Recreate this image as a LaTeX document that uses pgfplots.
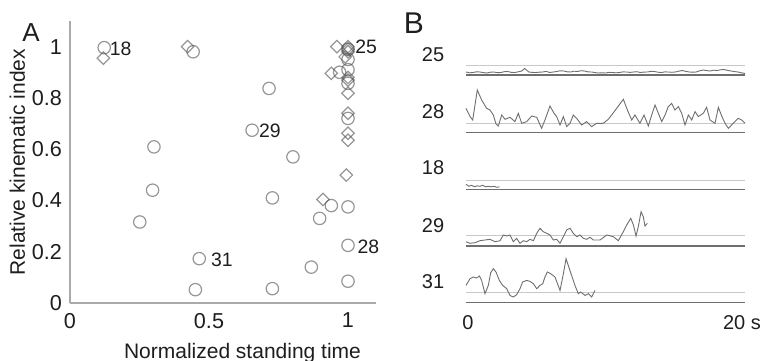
\documentclass[border=0pt]{standalone}
\usepackage{pgfplots}
\pgfplotsset{compat=1.18}
\usepackage{fontspec}
\setmainfont{Liberation Sans}
\definecolor{markg}{RGB}{80,80,80}
\definecolor{axisg}{RGB}{170,170,170}
\definecolor{traceg}{RGB}{110,110,110}
\definecolor{baseg}{RGB}{110,110,110}
\definecolor{thrg}{RGB}{200,200,200}
\definecolor{txt}{RGB}{30,30,30}
\begin{document}
\begin{tikzpicture}
\useasboundingbox (0,0) rectangle (385.5pt,180pt);
% ---------------- Panel A ----------------
\begin{axis}[
  at={(35pt,28.5pt)}, anchor=south west,
  scale only axis, width=152.9pt, height=141pt,
  xmin=0, xmax=1.1, ymin=0, ymax=1.1,
  axis x line*=bottom, axis y line*=left,
  axis line style={axisg, line width=0.6pt, -},
  xtick={0,0.5,1}, xticklabels={0,0.5,1},
  ytick={0,0.2,0.4,0.6,0.8,1}, yticklabels={0,0.2,0.4,0.6,0.8,1},
  major tick length=0pt,
  tick label style={font=\fontsize{10.8}{12}\selectfont, text=txt},
  xticklabel style={yshift=-1.5pt},
  yticklabel style={xshift=-0.5pt},
  /pgf/number format/assume math mode=true,
  xlabel={Normalized standing time},
  ylabel={Relative kinematic index},
  label style={font=\fontsize{10.5}{12}\selectfont, text=txt},
  xlabel style={at={(axis description cs:0.564,0)}, anchor=north, yshift=-16.5pt},
  ylabel style={at={(axis description cs:-0.172,0.5)}, anchor=center},
  clip=false,
]
\addplot[only marks, mark=o, mark size=3.1pt,
  mark options={draw=markg, draw opacity=0.6, line width=0.6pt}]
  coordinates {
  (0.123,0.996) (0.443,0.980) (0.716,0.837) (0.655,0.674) (0.302,0.609)
  (0.297,0.440) (0.251,0.316) (0.802,0.570) (0.728,0.410) (0.940,0.380)
  (0.898,0.330) (1.000,0.375) (1.000,0.225) (0.465,0.173) (0.868,0.140)
  (0.451,0.052) (0.728,0.056) (1.000,0.085) (1.000,0.990) (1.000,0.950)
  (0.970,0.900) (1.000,0.910) (1.000,0.857) (1.000,0.720)
  };
\addplot[only marks, mark=square, mark size=2.2pt,
  mark options={draw=markg, draw opacity=0.6, fill=none, line width=0.6pt, rotate=45}]
  coordinates {
  (0.120,0.955) (0.423,1.000) (0.994,0.499) (0.910,0.404) (0.960,1.000)
  (0.940,0.896) (1.000,1.000) (1.000,0.990) (1.000,0.980) (1.000,0.870)
  (1.000,0.880) (1.000,0.818) (1.000,0.740) (1.000,0.662) (1.000,0.635)
  (0.990,0.960)
  };
\node[font=\fontsize{9.7}{11}\selectfont, text=txt] at (axis cs:0.182,0.991) {18};
\node[font=\fontsize{9.7}{11}\selectfont, text=txt] at (axis cs:1.065,1.000) {25};
\node[font=\fontsize{9.7}{11}\selectfont, text=txt] at (axis cs:0.719,0.672) {29};
\node[font=\fontsize{9.7}{11}\selectfont, text=txt] at (axis cs:0.546,0.170) {31};
\node[font=\fontsize{9.7}{11}\selectfont, text=txt] at (axis cs:1.073,0.220) {28};
\end{axis}
\node[font=\fontsize{13}{15}\selectfont, text=txt] at (15.5pt,163.5pt) {A};
% ---------------- Panel B ----------------
\node[font=\fontsize{15}{17}\selectfont, text=txt] at (207pt,168.5pt) {B};
\pgfplotsset{trow/.style={scale only axis, width=139.5pt, height=25pt,
  xmin=0, xmax=20, ymin=0, ymax=50, hide axis, clip=false, anchor=south west}}
% row 25
\begin{axis}[trow, at={(233pt,142.5pt)}]
\addplot[thrg, line width=0.5pt] coordinates {(0,9) (20,9)};
\addplot[baseg, line width=0.7pt] coordinates {(0,0) (20,0)};
\addplot[traceg, line width=0.45pt] coordinates {
(0,3)(0.25,2.2)(0.5,2.5)(0.75,3.2)(1,3)(1.25,2.4)(1.5,2)(1.75,2.8)(2,3)(2.25,2.3)(2.5,2.5)(2.75,3.3)
(3,3.5)(3.25,2.6)(3.5,2.5)(3.75,3.2)(4,4)(4.2,6.5)(4.4,4.2)(4.5,3)(4.75,2.6)(5,2.5)(5.25,2.8)(5.5,3)
(5.75,3.6)(6,2.5)(6.25,3)(6.5,3.5)(6.75,4.2)(7,4)(7.25,3.2)(7.5,3)(7.75,3.8)(8,3.5)(8.25,4.3)(8.5,4)
(8.75,3.1)(9,3)(9.25,2.4)(9.5,2)(9.75,2.2)(10,2)(10.25,2.6)(10.5,2.5)(10.75,2.2)(11,2.5)(11.25,3.1)
(11.5,3)(11.75,2.6)(12,3)(12.25,3.3)(12.5,2.5)(12.75,2.9)(13,3)(13.25,3.6)(13.5,3.5)(13.75,2.8)
(14,2.5)(14.25,3.1)(14.5,3)(14.75,2.7)(15,3)(15.25,3.8)(15.5,4.5)(15.75,3.6)(16,3)(16.25,2.8)(16.5,3)
(16.75,4.2)(17,5)(17.25,4.4)(17.5,4)(17.75,4.8)(18,4.5)(18.25,5.2)(18.5,5.5)(18.75,4.6)(19,4)
(19.25,3.4)(19.5,3)(19.75,2.2)(20,1.5)};
\end{axis}
\node[font=\fontsize{10}{12}\selectfont, text=txt] at (216.5pt,152.5pt) {25};
% row 28
\begin{axis}[trow, at={(233pt,113.85pt)}]
\addplot[thrg, line width=0.5pt] coordinates {(0,9) (20,9)};
\addplot[baseg, line width=0.7pt] coordinates {(0,0) (20,0)};
\addplot[traceg, line width=0.45pt] coordinates {
(0,24)(0.29,15.7)(0.48,12.3)(0.81,42.3)(1.12,32.3)(1.48,24)(1.72,22.3)(1.96,17.3)(2.15,8.3)(2.32,6.3)
(2.56,17.3)(2.80,13)(3.15,15)(3.51,10.7)(3.75,19)(3.99,9)(4.35,10.7)(4.71,16.3)(5.07,15)(5.42,4)
(5.66,12.3)(6.02,26.3)(6.31,19)(6.50,15.7)(6.74,7.3)(6.98,15.7)(7.22,5.7)(7.46,9)(7.69,17.3)(7.93,14)
(8.29,7.3)(8.65,10.7)(9.01,5.7)(9.37,9)(9.84,9)(10.20,13)(10.44,17.3)(10.80,24)(11.28,33)(11.57,22.3)
(11.88,12.3)(12.11,17.3)(12.47,9)(12.76,17.3)(13.07,6.3)(13.31,17.3)(13.55,27.3)(13.79,19)(14.03,10.7)
(14.27,17.3)(14.50,25.7)(14.74,29)(14.98,22.3)(15.22,25.7)(15.46,19)(15.70,7.3)(15.94,17.3)(16.18,12.3)
(16.42,20.7)(16.65,15.7)(17.01,19)(17.25,25)(17.49,12.3)(17.85,9)(18.09,25)(18.33,16.3)(18.57,9)
(18.81,4)(19.04,7.3)(19.28,10.7)(19.52,14)(19.76,12.3)(20,9)};
\end{axis}
\node[font=\fontsize{10}{12}\selectfont, text=txt] at (216.5pt,124.15pt) {28};
% row 18
\begin{axis}[trow, at={(233pt,85.35pt)}]
\addplot[thrg, line width=0.5pt] coordinates {(0,9.3) (20,9.3)};
\addplot[baseg, line width=0.7pt] coordinates {(0,0) (20,0)};
\addplot[traceg, line width=0.45pt] coordinates {
(0,5)(0.2,3)(0.4,4)(0.6,2.5)(0.8,3.5)(1.0,3)(1.2,4)(1.4,2.5)(1.6,3)(1.8,2.5)(2.0,3)(2.2,2)(2.4,2.5)};
\end{axis}
\node[font=\fontsize{10}{12}\selectfont, text=txt] at (216.5pt,96pt) {18};
% row 29
\begin{axis}[trow, at={(233pt,57pt)}]
\addplot[thrg, line width=0.5pt] coordinates {(0,10.3) (20,10.3)};
\addplot[baseg, line width=0.7pt] coordinates {(0,0) (20,0)};
\addplot[traceg, line width=0.45pt] coordinates {
(0,4.3)(0.29,2.7)(0.65,3.3)(1.0,5.3)(1.36,6)(1.72,6.7)(2.08,4.3)(2.44,5.3)(2.67,11)(2.92,10)(3.15,11)
(3.39,4.3)(3.63,7.7)(3.87,2.7)(4.11,5.3)(4.35,4.3)(4.59,6.7)(4.83,5.3)(5.07,12.7)(5.30,17.7)(5.54,14.3)
(5.78,12.7)(6.02,11)(6.26,6)(6.50,6.7)(6.74,2.7)(6.98,9.3)(7.22,16)(7.46,17.7)(7.69,12.7)(7.93,9.3)
(8.17,11)(8.41,7.7)(8.65,6.7)(8.89,8.7)(9.13,6)(9.61,6)(10.09,11)(10.56,9.3)(10.92,5.3)(11.28,14.3)
(11.52,21)(11.81,27.7)(12.0,21)(12.19,10)(12.35,19.3)(12.55,34.3)(12.71,29.3)(12.83,20)(13.0,22.7)};
\end{axis}
\node[font=\fontsize{10}{12}\selectfont, text=txt] at (216.5pt,67pt) {29};
% row 31
\begin{axis}[trow, at={(233pt,28.65pt)}]
\addplot[thrg, line width=0.5pt] coordinates {(0,10.4) (20,10.4)};
\addplot[baseg, line width=0.7pt] coordinates {(0,0) (20,0)};
\addplot[traceg, line width=0.45pt] coordinates {
(0,17.3)(0.29,24)(0.53,25.7)(0.76,24.7)(0.96,26.7)(1.12,22.3)(1.36,9)(1.60,17.3)(1.77,30)(1.96,34)
(2.15,30.7)(2.39,22.3)(2.63,17.3)(2.92,14)(3.15,7.3)(3.39,5.7)(3.63,8)(3.87,14)(4.06,20.7)(4.35,22.3)
(4.59,21.3)(4.83,19)(5.07,14)(5.30,17.3)(5.50,19)(5.66,25.7)(5.83,30.7)(6.07,29)(6.38,25.7)(6.74,12.3)
(6.98,29)(7.17,44)(7.33,37.3)(7.57,27.3)(7.81,17.3)(8.05,9)(8.22,10.7)(8.53,7.3)(8.77,9)(9.01,5.7)(9.25,12.3)};
\end{axis}
\node[font=\fontsize{10}{12}\selectfont, text=txt] at (216.5pt,39.15pt) {31};
% time axis labels
\node[font=\fontsize{10}{12}\selectfont, text=txt] at (234pt,18.5pt) {0};
\node[font=\fontsize{10}{12}\selectfont, text=txt] at (371pt,18.5pt) {20 s};
\end{tikzpicture}
\end{document}
